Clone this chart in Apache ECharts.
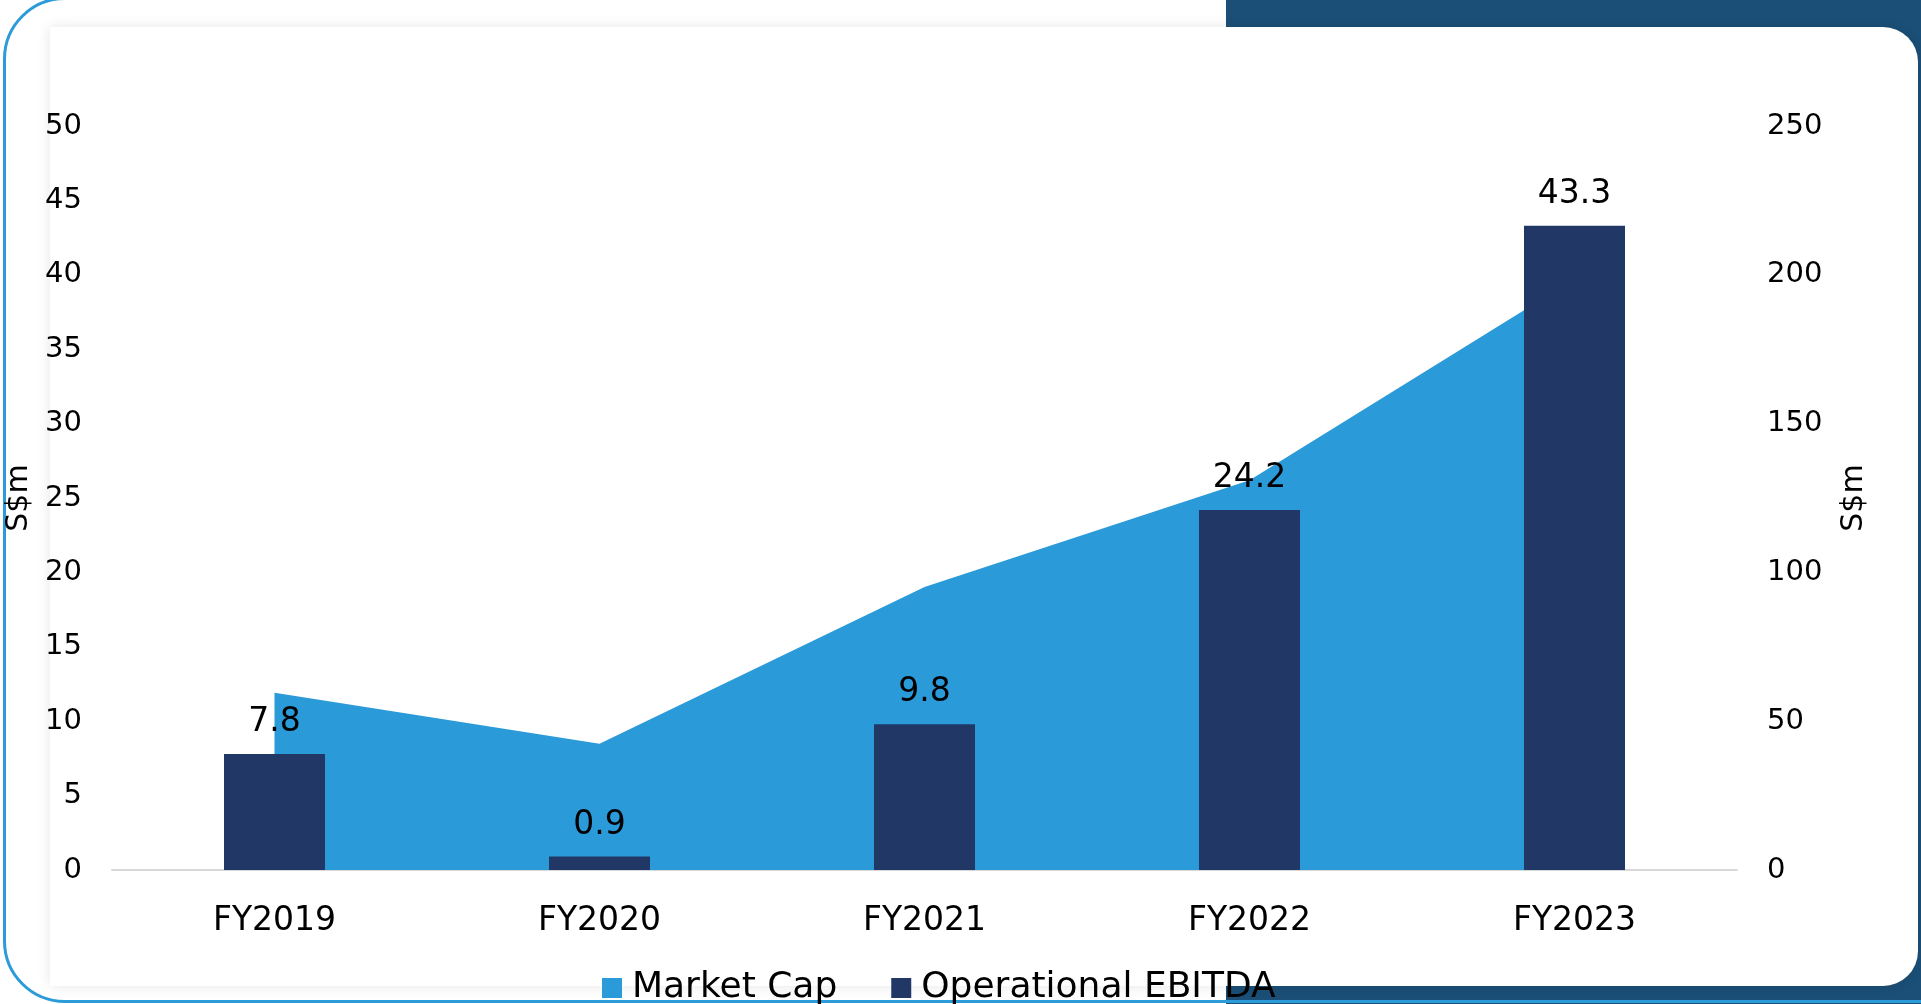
<!DOCTYPE html>
<html>
<head>
<meta charset="utf-8">
<script src="https://cdn.jsdelivr.net/npm/echarts@6/dist/echarts.min.js"></script>
<style>
  html, body { margin: 0; padding: 0; background: #ffffff; overflow: hidden; }
  #stage { position: relative; width: 1921px; height: 1004px; overflow: hidden; background: #ffffff; }
  #dark { position: absolute; left: 1226px; top: 0; width: 700px; height: 1004px; background: #1b4f77; }
  #ring { position: absolute; left: 3px; top: -3px; width: 2000px; height: 1006px; box-sizing: border-box;
          border: 3px solid #2b9bd9; border-radius: 62px; }
  #card { position: absolute; left: 50px; top: 27px; width: 1868px; height: 959px; background: #ffffff;
          border-radius: 0 35px 35px 0; box-shadow: 0 0 14px rgba(0,0,0,0.10); }
  #chart { position: absolute; left: 0; top: 0; width: 1921px; height: 1004px; }
</style>
</head>
<body>
<div id="stage">
  <div id="dark"></div>
  <div id="ring"></div>
  <div id="card"></div>
  <div id="chart"></div>
</div>
<script>
const categories = ['FY2019', 'FY2020', 'FY2021', 'FY2022', 'FY2023'];
const marketCap = [59.6, 42.4, 95.1, 131.0, 198.6];
const operationalEbitda = [7.8, 0.9, 9.8, 24.2, 43.3];
const seriesNames = ['Market Cap', 'Operational EBITDA'];
const axisName = 'S$m';

const FONT = 'DejaVu Sans';
const chart = echarts.init(document.getElementById('chart'), null, { renderer: 'canvas' });

chart.setOption({
  backgroundColor: 'transparent',
  animation: false,
  textStyle: { fontFamily: FONT },
  grid: { left: 112, right: 184, top: 126, bottom: 134, containLabel: false, outerBoundsMode: 'none' },
  legend: {
    data: seriesNames,
    left: 597,
    top: 965,
    icon: 'rect',
    itemWidth: 20,
    itemHeight: 20,
    itemGap: 54,
    textStyle: { fontFamily: FONT, fontSize: 36, color: '#000', padding: [0, 0, 0, 5] }
  },
  xAxis: {
    type: 'category',
    data: categories,
    axisLine: { show: true, lineStyle: { color: '#d9d9d9', width: 2 } },
    axisTick: { show: false },
    axisLabel: { fontFamily: FONT, fontSize: 33, color: '#000', margin: 35 },
    splitLine: { show: false }
  },
  yAxis: [
    {
      type: 'value', min: 0, max: 50, interval: 5,
      name: axisName, nameLocation: 'middle', nameGap: 69, nameRotate: 90,
      nameTextStyle: { fontFamily: FONT, fontSize: 30, color: '#000' },
      axisLine: { show: false }, axisTick: { show: false }, splitLine: { show: false },
      axisLabel: { fontFamily: FONT, fontSize: 29, color: '#000', margin: 30 }
    },
    {
      type: 'value', min: 0, max: 250, interval: 50, position: 'right',
      name: axisName, nameLocation: 'middle', nameGap: 102, nameRotate: 90,
      nameTextStyle: { fontFamily: FONT, fontSize: 30, color: '#000' },
      axisLine: { show: false }, axisTick: { show: false }, splitLine: { show: false },
      axisLabel: { fontFamily: FONT, fontSize: 29, color: '#000', margin: 30 }
    }
  ],
  series: [
    {
      name: seriesNames[0],
      type: 'line',
      yAxisIndex: 1,
      data: marketCap,
      symbol: 'none',
      smooth: false,
      lineStyle: { width: 0, color: '#2a9ad9' },
      itemStyle: { color: '#2a9ad9' },
      areaStyle: { color: '#2a9ad9', opacity: 1 },
      z: 1
    },
    {
      name: seriesNames[1],
      type: 'bar',
      yAxisIndex: 0,
      data: operationalEbitda,
      barWidth: 101,
      itemStyle: { color: '#213866' },
      label: {
        show: true, position: 'top', distance: 15,
        fontFamily: FONT, fontSize: 33, color: '#000'
      },
      z: 3
    }
  ]
});
</script>
</body>
</html>
